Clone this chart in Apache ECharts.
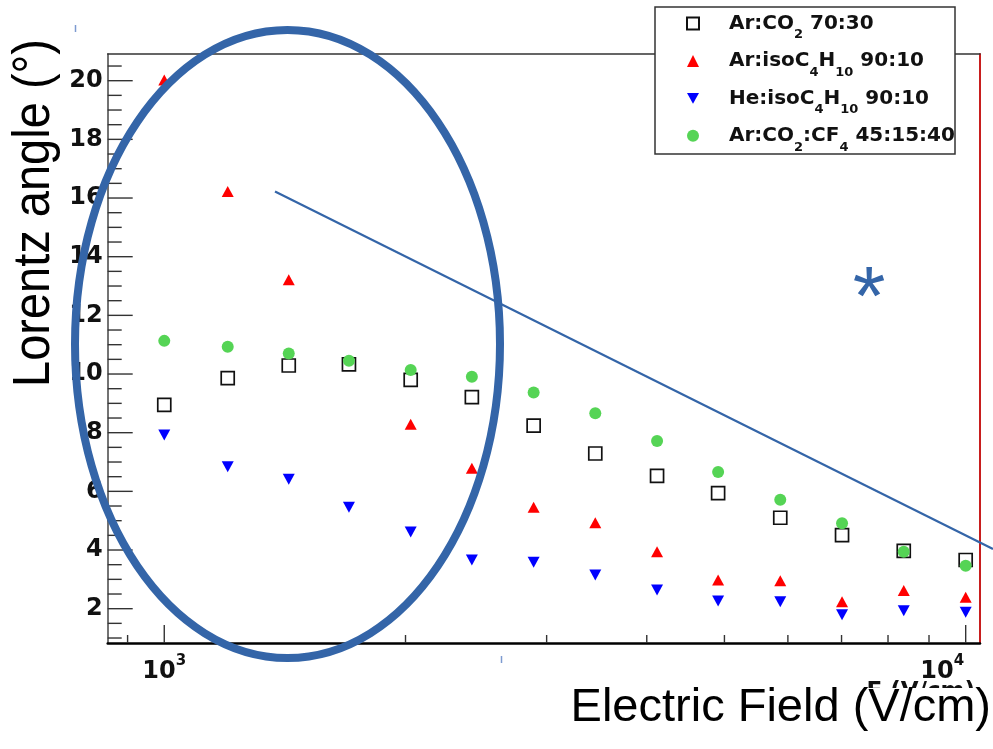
<!DOCTYPE html>
<html>
<head>
<meta charset="utf-8">
<title>Lorentz angle</title>
<script src="https://cdn.jsdelivr.net/npm/echarts@6/dist/echarts.min.js"></script>
<style>
  html, body { margin: 0; padding: 0; background: #fff; }
  #main { width: 993px; height: 749px; }
</style>
</head>
<body>
<div id="main"></div>
<script>
// electric field (V/cm) of each measured point
const fieldValues = [1000, 1200, 1430, 1700, 2030, 2420, 2890, 3450, 4120, 4910, 5870, 7010, 8370, 10000];
// Lorentz angle (deg) per gas mixture, null = point not visible
const arCo2 = [8.95, 9.86, 10.29, 10.33, 9.80, 9.21, 8.24, 7.29, 6.53, 5.94, 5.10, 4.51, 3.97, 3.66];
const arIso = [20.02, 16.22, 13.21, null, 8.29, 6.79, 5.46, 4.93, 3.94, 2.98, 2.95, 2.24, 2.62, 2.39];
const heIso = [7.92, 6.84, 6.41, 5.46, 4.61, 3.66, 3.58, 3.15, 2.64, 2.26, 2.24, 1.79, 1.93, 1.88];
const arCo2Cf4 = [11.13, 10.93, 10.70, 10.45, 10.14, 9.91, 9.37, 8.66, 7.72, 6.66, 5.71, 4.91, 3.94, 3.46];

const seriesNames = ['Ar:CO2 70:30', 'Ar:isoC4H10 90:10', 'He:isoC4H10 90:10', 'Ar:CO2:CF4 45:15:40'];
// same names with sub-scripts for the legend
const legendLabels = {
  'Ar:CO2 70:30': '{g| }{m|Ar:CO}{s|2}{m| 70:30}',
  'Ar:isoC4H10 90:10': '{g| }{m|Ar:isoC}{s|4}{m|H}{s|10}{m| 90:10}',
  'He:isoC4H10 90:10': '{g| }{m|He:isoC}{s|4}{m|H}{s|10}{m| 90:10}',
  'Ar:CO2:CF4 45:15:40': '{g| }{m|Ar:CO}{s|2}{m|:CF}{s|4}{m| 45:15:40}'
};

// axis ranges and tick marks
const X_MIN = 850, X_MAX = 10420;
const Y_MIN = 0.83, Y_MAX = 20.91;
const xTickValues = [900, 1000, 2000, 3000, 4000, 5000, 6000, 7000, 8000, 9000, 10000];
const xMajorTicks = [1000, 10000];
const yMajorTicks = [2, 4, 6, 8, 10, 12, 14, 16, 18, 20];
const yMinorTicks = [];
for (let v = 1; v <= 20.5; v += 0.5) {
  if (v % 2 !== 0) yMinorTicks.push(v);
}

const BOLD = 'DejaVu Sans';
const SANS = 'Liberation Sans';
const BLUE = '#3465a8';

function pairs(arr) {
  return fieldValues.map((x, i) => [x, arr[i]]).filter(p => p[1] != null);
}

function tickSeries(values, axis) {
  return {
    type: 'custom',
    silent: true,
    z: 3,
    data: values.map(v => axis === 'x' ? [v, Y_MIN] : [X_MIN, v]),
    renderItem: function (params, api) {
      const p = api.coord([api.value(0), api.value(1)]);
      let shape;
      if (axis === 'x') {
        const len = xMajorTicks.includes(api.value(0)) ? 18 : 8;
        shape = { x1: p[0], y1: p[1], x2: p[0], y2: p[1] - len };
      } else {
        const len = yMajorTicks.includes(api.value(1)) ? 25 : 14;
        shape = { x1: p[0], y1: p[1], x2: p[0] + len, y2: p[1] };
      }
      return { type: 'line', shape: shape, style: { stroke: '#333', lineWidth: 1.4 } };
    }
  };
}

const myChart = echarts.init(document.getElementById('main'));

const option = {
  backgroundColor: '#fff',
  animation: false,
  grid: { left: 107.7, top: 54, right: 13, bottom: 106, outerBoundsMode: 'none' },
  legend: {
    data: seriesNames,
    orient: 'vertical',
    left: 686,
    top: 13.6,
    padding: 0,
    itemGap: 9.4,
    itemWidth: 12,
    itemHeight: 12,
    selectedMode: false,
    formatter: name => legendLabels[name],
    textStyle: {
      color: '#111',
      rich: {
        g: { width: 25, fontSize: 13, lineHeight: 14 },
        m: { fontFamily: BOLD, fontWeight: 'bold', fontSize: 20, color: '#111', lineHeight: 36, verticalAlign: 'middle' },
        s: { fontFamily: BOLD, fontWeight: 'bold', fontSize: 13, color: '#111', lineHeight: 14, verticalAlign: 'bottom' }
      }
    }
  },
  xAxis: [{
    type: 'log',
    min: X_MIN,
    max: X_MAX,
    name: 'E (V/cm)',
    nameLocation: 'end',
    nameGap: -5,
    nameMoveOverlap: false,
    nameTextStyle: {
      fontFamily: BOLD, fontWeight: 'bold', fontSize: 23, color: '#111',
      align: 'right', verticalAlign: 'top', padding: [38, 0, 0, 0]
    },
    axisLine: { onZero: false, lineStyle: { color: '#000', width: 2.5 } },
    axisTick: { show: false },
    splitLine: { show: false },
    minorTick: { show: false },
    axisLabel: {
      margin: 11,
      showMinLabel: false,
      showMaxLabel: false,
      formatter: function (v) {
        const e = Math.round(Math.log10(v));
        if (Math.abs(Math.pow(10, e) - v) > 1) return '';
        return e === 4 ? '{b|10}{s|' + e + '}{p| }' : '{b|10}{s|' + e + '}';
      },
      rich: {
        b: { fontFamily: BOLD, fontWeight: 'bold', fontSize: 24, color: '#111', lineHeight: 36, verticalAlign: 'middle' },
        s: { fontFamily: BOLD, fontWeight: 'bold', fontSize: 15, color: '#111', lineHeight: 14, verticalAlign: 'top' },
        p: { width: 47, fontSize: 15, lineHeight: 14 }
      }
    }
  }, {
    type: 'log',
    position: 'top',
    min: X_MIN,
    max: X_MAX,
    axisLine: { show: true, onZero: false, lineStyle: { color: '#333', width: 1.5 } },
    axisTick: { show: false },
    axisLabel: { show: false },
    splitLine: { show: false }
  }],
  yAxis: [{
    type: 'value',
    min: Y_MIN,
    max: Y_MAX,
    minInterval: 2,
    maxInterval: 2,
    axisLine: { show: true, onZero: false, lineStyle: { color: '#444', width: 1.5 } },
    axisTick: { show: false },
    splitLine: { show: false },
    axisLabel: {
      margin: 5,
      showMinLabel: false,
      showMaxLabel: false,
      fontFamily: BOLD,
      fontWeight: 'bold',
      fontSize: 24,
      color: '#111',
      formatter: v => (Math.abs(v - Math.round(v)) < 1e-6 && Math.round(v) % 2 === 0) ? String(Math.round(v)) : ''
    }
  }, {
    type: 'value',
    position: 'right',
    min: Y_MIN,
    max: Y_MAX,
    axisLine: { show: true, onZero: false, lineStyle: { color: '#c81e1e', width: 2 } },
    axisTick: { show: false },
    axisLabel: { show: false },
    splitLine: { show: false }
  }],
  series: [
    {
      name: seriesNames[0], type: 'scatter', data: pairs(arCo2),
      symbol: 'rect', symbolSize: 13,
      itemStyle: { color: '#fff', borderColor: '#111', borderWidth: 1.7, opacity: 1 }
    },
    {
      name: seriesNames[1], type: 'scatter', data: pairs(arIso),
      symbol: 'triangle', symbolSize: [12, 11],
      itemStyle: { color: '#ff0000', opacity: 1 }
    },
    {
      name: seriesNames[2], type: 'scatter', data: pairs(heIso),
      symbol: 'path://M0,0L2,0L1,1.8Z', symbolSize: [12, 11],
      itemStyle: { color: '#0000ff', opacity: 1 }
    },
    {
      name: seriesNames[3], type: 'scatter', data: pairs(arCo2Cf4),
      symbol: 'circle', symbolSize: 12,
      itemStyle: { color: '#55d455', opacity: 1 }
    },
    tickSeries(xTickValues, 'x'),
    tickSeries(yMajorTicks.concat(yMinorTicks), 'y')
  ],
  graphic: [
    // legend frame (covers the top border of the frame)
    { type: 'rect', z: 3, shape: { x: 655, y: 7, width: 300, height: 147 },
      style: { fill: '#fff', stroke: '#333', lineWidth: 1.5 } },
    // slide annotations
    { type: 'ellipse', z: 10, shape: { cx: 287.5, cy: 344, rx: 212.5, ry: 314 },
      style: { fill: 'none', stroke: BLUE, lineWidth: 8 } },
    { type: 'line', z: 10, shape: { x1: 275, y1: 191.5, x2: 993, y2: 549 },
      style: { stroke: BLUE, lineWidth: 2.2 } },
    { type: 'text', z: 10, x: 869, y: 302,
      style: { text: '*', fontFamily: SANS, fontSize: 84, fill: BLUE, align: 'center', verticalAlign: 'middle' } },
    { type: 'line', z: 10, shape: { x1: 75.5, y1: 25, x2: 75.5, y2: 32 }, style: { stroke: '#7d9bd0', lineWidth: 1.5 } },
    { type: 'line', z: 10, shape: { x1: 501.5, y1: 656, x2: 501.5, y2: 663 }, style: { stroke: '#7d9bd0', lineWidth: 1.5 } },
    { type: 'rect', z: 10, shape: { x: 555, y: 688, width: 438, height: 61 }, style: { fill: '#fff' } },
    { type: 'text', z: 11, x: 991, y: 708,
      style: { text: 'Electric Field (V/cm)', fontFamily: SANS, fontSize: 47, fill: '#000', align: 'right', verticalAlign: 'middle' } },
    { type: 'text', z: 11, x: 34, y: 213, rotation: Math.PI / 2, scaleY: 1.12,
      style: { text: 'Lorentz angle (°)', fontFamily: SANS, fontSize: 47, fill: '#000', align: 'center', verticalAlign: 'middle' } }
  ]
};

myChart.setOption(option);
</script>
</body>
</html>
